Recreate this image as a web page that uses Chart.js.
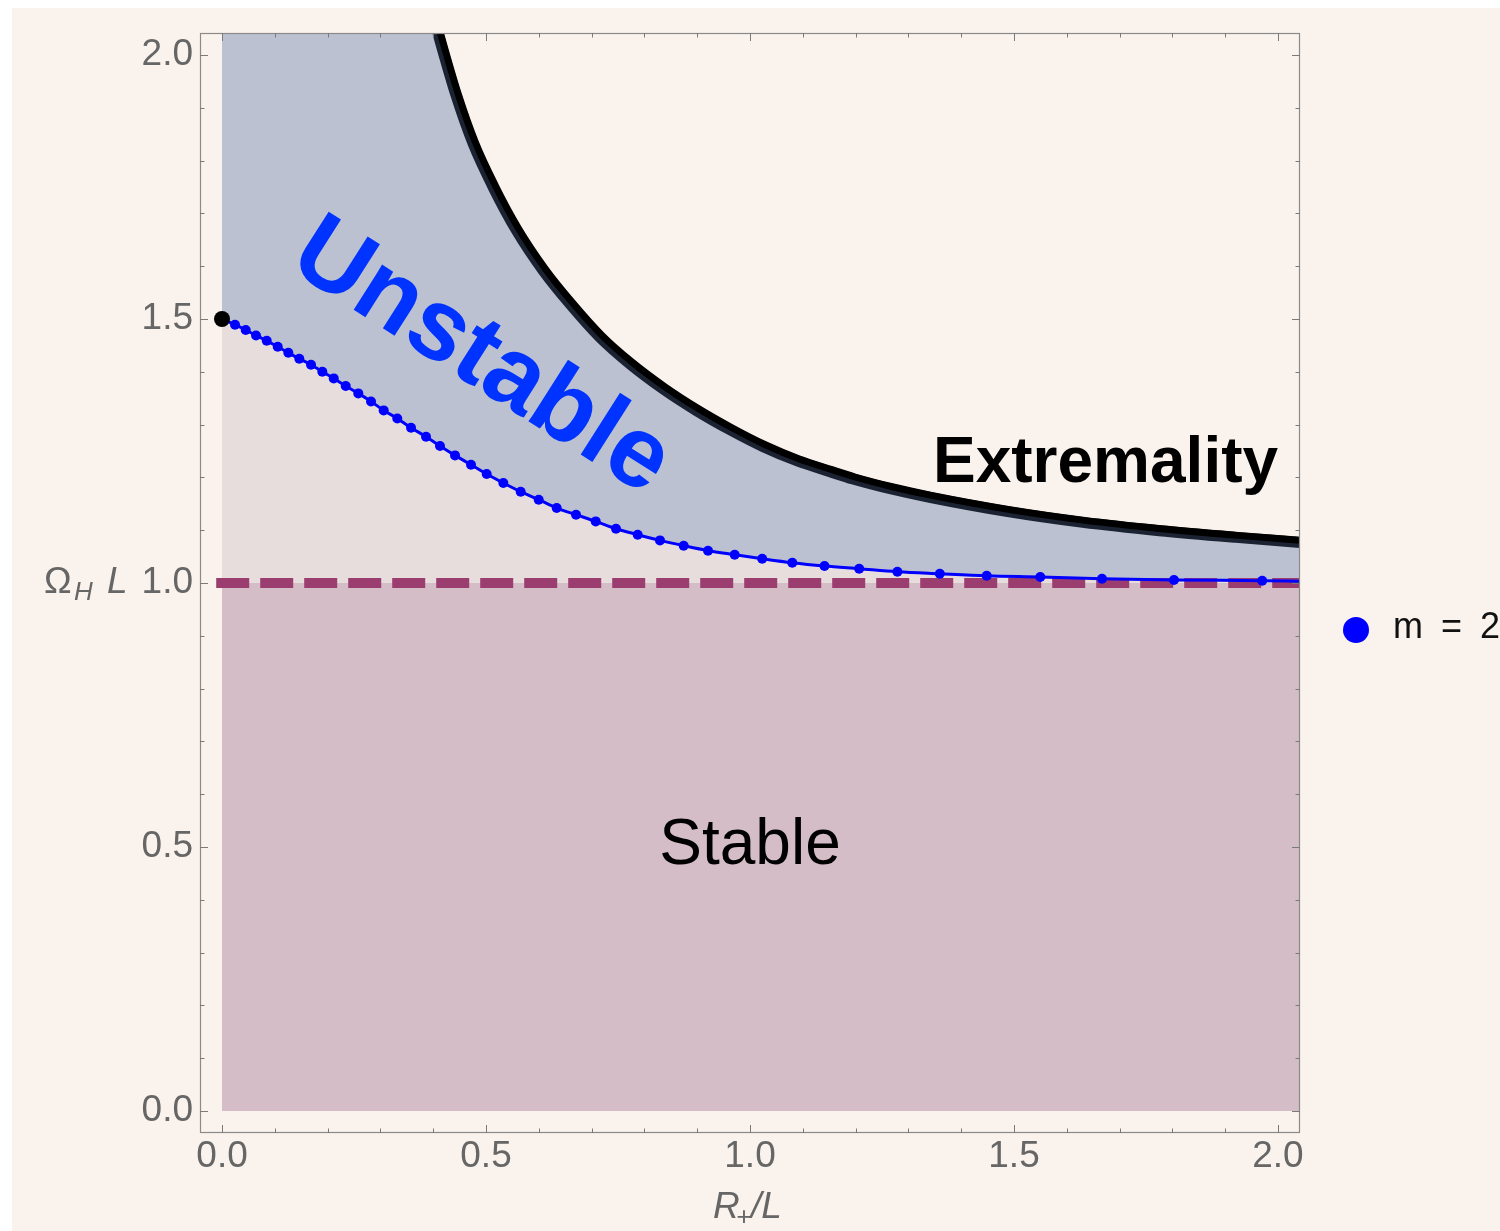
<!DOCTYPE html>
<html>
<head>
<meta charset="utf-8">
<script src="https://cdn.jsdelivr.net/npm/chart.js@4"></script>
<style>
  html, body { margin: 0; padding: 0; background: #ffffff; }
  canvas { display: block; }
</style>
</head>
<body>
<canvas id="c" width="1500" height="1231"></canvas>
<script>
// ---------- data ----------
// m = 2 onset curve (dots)
const m2X = [0.0246, 0.0449, 0.0644, 0.0847, 0.1055, 0.1256, 0.1464, 0.1686, 0.1900, 0.2116,
             0.2343, 0.2581, 0.2822, 0.3062, 0.3320, 0.3580, 0.3864, 0.4129, 0.4413, 0.4716,
             0.5013, 0.5328, 0.5657, 0.5998, 0.6339, 0.6705, 0.7078, 0.7462, 0.7873, 0.8295,
             0.8744, 0.9205, 0.9710, 1.0231, 1.0801, 1.1411, 1.2068, 1.2792, 1.3595, 1.4483,
             1.5498, 1.6667, 1.8030, 1.9701];
const m2Y = [1.4892, 1.4792, 1.4689, 1.4589, 1.4475, 1.4362, 1.4248, 1.4134, 1.4002, 1.3875,
             1.3731, 1.3591, 1.3439, 1.3269, 1.3117, 1.2941, 1.2771, 1.2595, 1.2417, 1.2241,
             1.2064, 1.1894, 1.1729, 1.1578, 1.1420, 1.1294, 1.1167, 1.1028, 1.0915, 1.0807,
             1.0706, 1.0612, 1.0536, 1.0460, 1.0384, 1.0322, 1.0271, 1.0214, 1.0176, 1.0138,
             1.0114, 1.0081, 1.0057, 1.0044];
// start point (black dot) and the curve's value at the right frame
const startX = 0.0, startY = 1.5;
const endX = 2.0417, endY = 1.0034;
// extremality curve
const extX = [0.4089, 0.4129, 0.4445, 0.4759, 0.5138, 0.5581, 0.6085, 0.6591, 0.7159, 0.7727,
              0.8358, 0.8991, 0.9621, 1.0252, 1.0884, 1.1515, 1.1951, 1.2676, 1.3402, 1.4852,
              1.6301, 1.7750, 1.9201, 2.0417];
const extY = [2.0417, 2.0271, 1.9197, 1.8314, 1.7492, 1.6672, 1.5915, 1.5284, 1.4652, 1.4148,
              1.3674, 1.3263, 1.2903, 1.2581, 1.2316, 1.2108, 1.1970, 1.1780, 1.1621, 1.1356,
              1.1148, 1.0991, 1.0864, 1.0769];
// superradiant bound Ω_H L = 1
const boundLevel = 1.0;
const boundX = [-0.011, 2.0417];
// axes
const axisMin = -0.0417, axisMax = 2.0417;
const xTickValues = [0.0, 0.5, 1.0, 1.5, 2.0];
const yTickValues = [0.0, 0.5, 1.0, 1.5, 2.0];
const minorStep = 0.1;
const legendLabel = 'm = 2';

// ---------- build library tables ----------
const pts = (xs, ys) => xs.map((x, i) => ({ x: x, y: ys[i] }));
const m2Points = pts(m2X, m2Y);
const m2Line = [{ x: startX, y: startY }].concat(m2Points, [{ x: endX, y: endY }]);
const extPoints = pts(extX, extY);
const unstableBoundary = [{ x: startX, y: axisMax }].concat(extPoints);
const stableTop = [{ x: startX, y: boundLevel }, { x: axisMax, y: boundLevel }];
const boundLine = boundX.map(x => ({ x: x, y: boundLevel }));

const FONT = "'Liberation Sans', Arial, Helvetica, sans-serif";
const GRAY = '#666666';

const decorPlugin = {
  id: 'decor',
  beforeDraw(chart) {
    const ctx = chart.ctx;
    ctx.save();
    ctx.fillStyle = '#ffffff';
    ctx.fillRect(0, 0, chart.width, chart.height);
    ctx.fillStyle = '#FAF2EC';
    ctx.fillRect(12, 8, chart.width - 12, chart.height - 8);
    ctx.restore();
  },
  beforeDatasetDraw(chart, args) {
    if (chart.data.datasets[args.index].label === 'extremality-core') {
      const a = chart.chartArea;
      const ctx = chart.ctx;
      ctx.save();
      ctx.beginPath();
      ctx.rect(a.left, a.top, a.right - a.left, a.bottom - a.top);
      ctx.clip();
      ctx.translate(2, -2);
    }
  },
  afterDatasetDraw(chart, args) {
    if (chart.data.datasets[args.index].label === 'extremality-core') {
      chart.ctx.restore();
    }
  },
  afterDraw(chart) {
    const ctx = chart.ctx;
    const a = chart.chartArea;
    const xs = chart.scales.x, ys = chart.scales.y;
    ctx.save();
    // frame
    ctx.strokeStyle = '#8a8a8a';
    ctx.lineWidth = 1.2;
    ctx.strokeRect(a.left + 0.5, a.top + 0.5, a.right - a.left - 1, a.bottom - a.top - 1);
    // inward ticks on all four sides
    ctx.lineWidth = 1;
    ctx.strokeStyle = '#7a7a7a';
    const first = xTickValues[0], last = xTickValues[xTickValues.length - 1];
    const n = Math.round((last - first) / minorStep);
    for (let i = 0; i <= n; i++) {
      const v = first + i * minorStep;
      const major = i % 5 === 0;
      const len = major ? 8 : 4.5;
      const px = Math.round(xs.getPixelForValue(v)) + 0.5;
      const py = Math.round(ys.getPixelForValue(v)) + 0.5;
      ctx.beginPath();
      ctx.moveTo(px, a.bottom); ctx.lineTo(px, a.bottom - len);
      ctx.moveTo(px, a.top); ctx.lineTo(px, a.top + len);
      ctx.moveTo(a.left, py); ctx.lineTo(a.left + len, py);
      ctx.moveTo(a.right, py); ctx.lineTo(a.right - len, py);
      ctx.stroke();
    }
    // region labels
    ctx.fillStyle = '#000000';
    ctx.textBaseline = 'alphabetic';
    ctx.font = 'bold 64px ' + FONT;
    ctx.textAlign = 'left';
    ctx.fillText('Extremality', 933, 482);
    ctx.font = '64px ' + FONT;
    ctx.textAlign = 'center';
    ctx.fillText('Stable', 750, 864);
    ctx.save();
    ctx.translate(481, 358);
    ctx.rotate(32.5 * Math.PI / 180);
    ctx.fillStyle = '#0033FF';
    ctx.font = 'bold 101px ' + FONT;
    ctx.textAlign = 'center';
    ctx.textBaseline = 'middle';
    ctx.fillText('Unstable', 0, 0);
    ctx.restore();
    // y axis label  Ω_H L
    ctx.fillStyle = GRAY;
    ctx.textAlign = 'left';
    ctx.textBaseline = 'alphabetic';
    ctx.font = '37px ' + FONT;
    ctx.fillText('\u03A9', 44, 593);
    ctx.font = 'italic 26px ' + FONT;
    ctx.fillText('H', 74, 600);
    ctx.font = 'italic 37px ' + FONT;
    ctx.fillText('L', 107, 593);
    // x axis label  R_+/L
    ctx.font = 'italic 37px ' + FONT;
    ctx.fillText('R', 713, 1218);
    ctx.font = 'italic 26px ' + FONT;
    ctx.fillText('+', 736, 1225);
    ctx.font = 'italic 37px ' + FONT;
    ctx.fillText('/L', 751, 1218);
    // legend
    ctx.fillStyle = '#0000FF';
    ctx.beginPath();
    ctx.arc(1356, 630, 13, 0, Math.PI * 2);
    ctx.fill();
    ctx.fillStyle = '#111111';
    ctx.font = '36px ' + FONT;
    ctx.textBaseline = 'alphabetic';
    try { ctx.letterSpacing = '4px'; } catch (e) {}
    ctx.fillText(legendLabel, 1393, 638);
    ctx.restore();
  }
};

new Chart(document.getElementById('c'), {
  type: 'scatter',
  data: {
    datasets: [
      { label: 'start', data: [{ x: startX, y: startY }], order: 0, clip: false,
        pointRadius: 8, pointBackgroundColor: '#000000', pointBorderWidth: 0, showLine: false },
      { label: legendLabel, data: m2Points, order: 1, clip: false,
        pointRadius: 5, pointBackgroundColor: '#0000FF', pointBorderWidth: 0, showLine: false },
      { label: 'm2-line', data: m2Line, order: 2, clip: 0, showLine: true,
        borderColor: '#0000FF', borderWidth: 3, pointRadius: 0, fill: false,
        cubicInterpolationMode: 'monotone' },
      { label: 'extremality-core', data: extPoints, order: 3, clip: 0, showLine: true,
        borderColor: '#000000', borderWidth: 7, pointRadius: 0, fill: false,
        cubicInterpolationMode: 'monotone' },
      { label: 'extremality-edge', data: extPoints, order: 4, clip: 0, showLine: true,
        borderColor: '#1B2333', borderWidth: 11, pointRadius: 0, fill: false,
        cubicInterpolationMode: 'monotone' },
      { label: 'bound', data: boundLine, order: 5, clip: 0, showLine: true,
        borderColor: '#9C3D6F', borderWidth: 10, borderDash: [33, 11], borderCapStyle: 'butt',
        pointRadius: 0, fill: false },
      { label: 'stable-fill', data: stableTop, order: 6, clip: 0, showLine: true,
        borderWidth: 0, borderColor: 'rgba(0,0,0,0)', pointRadius: 0,
        fill: 'origin', backgroundColor: '#D4BDC6' },
      { label: 'between-fill', data: m2Line, order: 7, clip: 0, showLine: true,
        borderWidth: 0, borderColor: 'rgba(0,0,0,0)', pointRadius: 0,
        cubicInterpolationMode: 'monotone',
        fill: 'origin', backgroundColor: '#E7DDDD' },
      { label: 'unstable-fill', data: unstableBoundary, order: 8, clip: 0, showLine: true,
        borderWidth: 0, borderColor: 'rgba(0,0,0,0)', pointRadius: 0,
        cubicInterpolationMode: 'monotone',
        fill: 'origin', backgroundColor: '#BBC1D0' }
    ]
  },
  options: {
    responsive: false,
    animation: false,
    events: [],
    layout: { padding: { left: 0, top: 33, right: 200, bottom: 0 } },
    plugins: { legend: { display: false }, tooltip: { enabled: false } },
    scales: {
      x: {
        type: 'linear', position: 'bottom', min: axisMin, max: axisMax,
        afterBuildTicks: s => { s.ticks = xTickValues.map(v => ({ value: v })); },
        afterFit: s => { s.height = 98; },
        grid: { display: false, drawTicks: false },
        border: { display: false },
        ticks: { color: GRAY, font: { family: FONT, size: 37 }, padding: 2,
                 maxRotation: 0, autoSkip: false, callback: v => Number(v).toFixed(1) }
      },
      y: {
        type: 'linear', position: 'left', min: axisMin, max: axisMax,
        afterBuildTicks: s => { s.ticks = yTickValues.map(v => ({ value: v })); },
        afterFit: s => { s.width = 200; },
        grid: { display: false, drawTicks: false },
        border: { display: false },
        ticks: { color: GRAY, font: { family: FONT, size: 37 }, padding: 7,
                 autoSkip: false, callback: v => Number(v).toFixed(1) }
      }
    }
  },
  plugins: [decorPlugin]
});
</script>
</body>
</html>
